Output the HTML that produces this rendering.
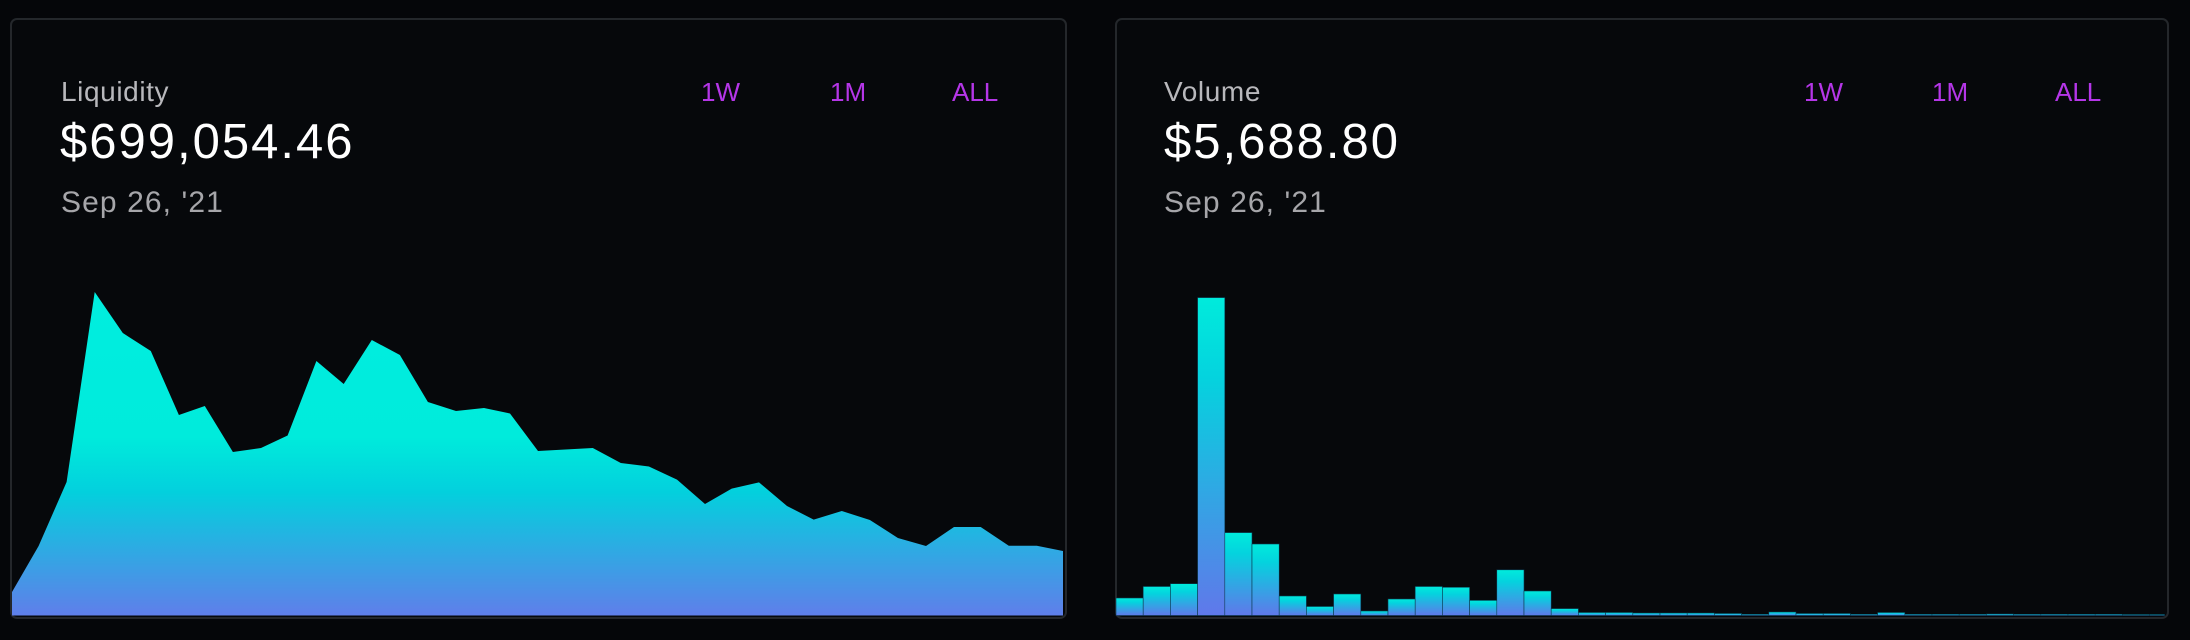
<!DOCTYPE html>
<html><head><meta charset="utf-8"><style>
html,body{margin:0;padding:0;background:#050609;width:2190px;height:640px;overflow:hidden;font-family:"Liberation Sans",sans-serif;}
.card{position:absolute;top:18px;height:597px;border:2px solid #24272b;border-radius:7px;background:#06080b;overflow:hidden;}
.t{position:absolute;white-space:nowrap;}
.lbl{font-size:28px;color:#b8b8bc;letter-spacing:0.6px;}
.big{font-size:49px;color:#fff;letter-spacing:2px;}
.date{font-size:30px;color:#a6a6aa;letter-spacing:1.1px;}
.btn{font-size:26px;color:#b536e8;}
svg{position:absolute;left:0;top:0;}
</style></head><body>
<div class="card" style="left:10px;width:1053px;"></div>
<div class="card" style="left:1115px;width:1050px;"></div>

<div class="t lbl" style="left:61px;top:76px;">Liquidity</div>
<div class="t big" style="left:60px;top:114px;">$699,054.46</div>
<div class="t date" style="left:61px;top:186px;">Sep 26, '21</div>
<div class="t btn" style="left:701px;top:77px;">1W</div>
<div class="t btn" style="left:830px;top:77px;">1M</div>
<div class="t btn" style="left:952px;top:77px;">ALL</div>

<div class="t lbl" style="left:1164px;top:76px;">Volume</div>
<div class="t big" style="left:1164px;top:114px;">$5,688.80</div>
<div class="t date" style="left:1164px;top:186px;">Sep 26, '21</div>
<div class="t btn" style="left:1804px;top:77px;">1W</div>
<div class="t btn" style="left:1932px;top:77px;">1M</div>
<div class="t btn" style="left:2055px;top:77px;">ALL</div>

<svg width="2190" height="640" viewBox="0 0 2190 640">
<defs>
<linearGradient id="ga" gradientUnits="userSpaceOnUse" x1="0" y1="292" x2="0" y2="615">
<stop offset="0" stop-color="#00eedf"/><stop offset="0.45" stop-color="#00ebdc"/><stop offset="0.62" stop-color="#03d0dd"/><stop offset="1" stop-color="#5f7fea"/>
</linearGradient>
<linearGradient id="gb" x1="0" y1="0" x2="0" y2="1">
<stop offset="0" stop-color="#00ebdc"/><stop offset="0.25" stop-color="#04d3de"/><stop offset="1" stop-color="#6078ea"/>
</linearGradient>
</defs>
<path fill="url(#ga)" d="M12,615.5 L12,592 L38.6,546 L66.6,482 L94.7,292 L122.8,333 L150.8,351 L178.9,415 L204.8,406 L232.9,452 L261,448 L287.6,435.5 L316.4,361 L343.7,384 L371.8,340 L399.9,355 L427.9,402 L456,411 L484,408 L510,413.5 L538,451 L592.8,448 L620.8,463 L648.9,466.5 L677,479.6 L705,504 L731.7,488.6 L759,482.4 L787,506 L813.7,519.6 L841.8,511 L869.9,520 L897.9,538 L926,546 L954,527 L980.7,527 L1008.8,545.7 L1036.8,545.7 L1063,551 L1063,615.5 Z"/>
<g fill="url(#gb)" stroke="#0a3a50" stroke-width="0.6">
<rect x="1116" y="598" width="27.2" height="17.5"/>
<rect x="1143.2" y="586.5" width="27.2" height="29"/>
<rect x="1170.4" y="583.7" width="27.2" height="31.8"/>
<rect x="1197.6" y="297.6" width="27.2" height="317.9"/>
<rect x="1224.8" y="532.6" width="27.2" height="82.9"/>
<rect x="1252" y="544" width="27.2" height="71.5"/>
<rect x="1279.2" y="596" width="27.2" height="19.5"/>
<rect x="1306.4" y="606.5" width="27.2" height="9"/>
<rect x="1333.6" y="594" width="27.2" height="21.5"/>
<rect x="1360.8" y="611" width="27.2" height="4.5"/>
<rect x="1388" y="599" width="27.2" height="16.5"/>
<rect x="1415.2" y="586.5" width="27.2" height="29"/>
<rect x="1442.4" y="587.3" width="27.2" height="28.2"/>
<rect x="1469.6" y="600.4" width="27.2" height="15.1"/>
<rect x="1496.8" y="569.8" width="27.2" height="45.7"/>
<rect x="1524" y="591" width="27.2" height="24.5"/>
<rect x="1551.2" y="608.6" width="27.2" height="6.9"/>
<rect x="1578.4" y="612.5" width="27.2" height="3"/>
<rect x="1605.6" y="612.5" width="27.2" height="3"/>
<rect x="1632.8" y="613" width="27.2" height="2.5"/>
<rect x="1660" y="613" width="27.2" height="2.5"/>
<rect x="1687.2" y="613" width="27.2" height="2.5"/>
<rect x="1714.4" y="613.5" width="27.2" height="2"/>
<rect x="1741.6" y="614.3" width="27.2" height="1.2"/>
<rect x="1768.8" y="612" width="27.2" height="3.5"/>
<rect x="1796" y="613.5" width="27.2" height="2"/>
<rect x="1823.2" y="613.5" width="27.2" height="2"/>
<rect x="1850.4" y="614.3" width="27.2" height="1.2"/>
<rect x="1877.6" y="612.5" width="27.2" height="3"/>
<rect x="1904.8" y="614.3" width="27.2" height="1.2"/>
<rect x="1932" y="614.3" width="27.2" height="1.2"/>
<rect x="1959.2" y="614.3" width="27.2" height="1.2"/>
<rect x="1986.4" y="614" width="27.2" height="1.5"/>
<rect x="2013.6" y="614.3" width="27.2" height="1.2"/>
<rect x="2040.8" y="614.3" width="27.2" height="1.2"/>
<rect x="2068" y="614.3" width="27.2" height="1.2"/>
<rect x="2095.2" y="614.3" width="27.2" height="1.2"/>
<rect x="2122.4" y="614.5" width="27.2" height="1"/>
<rect x="2149.6" y="614.5" width="15" height="1"/>
</g>
</svg>
</body></html>
